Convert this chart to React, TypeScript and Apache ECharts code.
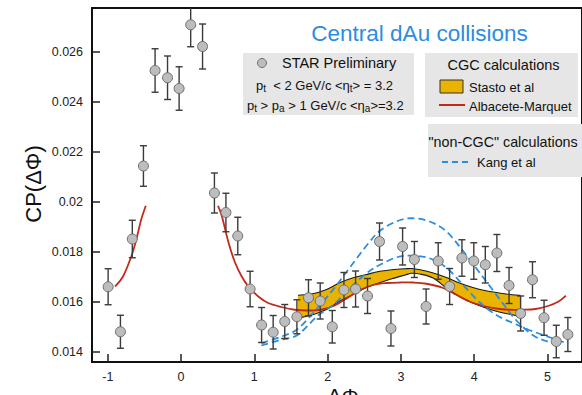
import React, { useEffect, useRef } from 'react';
import * as echarts from 'echarts';

// STAR preliminary data points
const dPhi = [-0.996, -0.828, -0.666, -0.514, -0.355, -0.185, -0.027, 0.131, 0.293, 0.455, 0.612, 0.774, 0.942, 1.099, 1.257, 1.415, 1.581, 1.739, 1.899, 2.064, 2.223, 2.382, 2.545, 2.709, 2.865, 3.024, 3.185, 3.345, 3.51, 3.666, 3.834, 3.996, 4.153, 4.311, 4.477, 4.635, 4.797, 4.955, 5.122, 5.28];
const cp = [0.01661, 0.01481, 0.01852, 0.02144, 0.02526, 0.02497, 0.02454, 0.02709, 0.02622, 0.02036, 0.01958, 0.01864, 0.01652, 0.01508, 0.01479, 0.01522, 0.01541, 0.01617, 0.01604, 0.01501, 0.01648, 0.01652, 0.01624, 0.01842, 0.01494, 0.01822, 0.0177, 0.01582, 0.01764, 0.01662, 0.01776, 0.01764, 0.01749, 0.01796, 0.01666, 0.01554, 0.01689, 0.01537, 0.01442, 0.0147];
const cpErr = [0.00072, 0.00066, 0.00075, 0.00081, 0.00087, 0.00087, 0.00087, 0.00088, 0.0009, 0.0008, 0.00077, 0.00075, 0.00071, 0.0007, 0.00067, 0.00068, 0.00068, 0.00072, 0.00072, 0.00065, 0.0007, 0.00072, 0.0007, 0.00074, 0.0007, 0.00074, 0.00072, 0.0007, 0.00073, 0.00072, 0.00073, 0.00073, 0.00073, 0.00074, 0.00072, 0.0007, 0.00072, 0.0007, 0.00065, 0.00068];

// Albacete-Marquet (red)
const amLeftX = [-0.901, -0.793, -0.68, -0.612, -0.545, -0.482];
const amLeftY = [0.01662, 0.01702, 0.01782, 0.01849, 0.01929, 0.01985];
const amRightX = [0.504, 0.558, 0.649, 0.739, 0.828, 0.919, 1.054, 1.189, 1.369, 1.55, 1.73, 1.909, 2.09, 2.27, 2.45, 2.631, 2.811, 2.99, 3.172, 3.351, 3.577, 3.757, 3.936, 4.118, 4.297, 4.477, 4.658, 4.838, 5.018, 5.153, 5.253];
const amRightY = [0.01985, 0.01942, 0.01836, 0.01756, 0.01702, 0.01662, 0.01622, 0.01596, 0.0158, 0.01569, 0.01566, 0.01569, 0.01585, 0.01616, 0.01649, 0.01669, 0.01676, 0.01678, 0.01678, 0.01673, 0.01656, 0.01629, 0.01602, 0.01585, 0.01574, 0.01569, 0.01569, 0.01572, 0.01585, 0.01602, 0.01625];

// Stasto et al (gold band)
const bandX = [1.595, 1.797, 1.977, 2.158, 2.338, 2.518, 2.699, 2.878, 3.058, 3.149, 3.261, 3.442, 3.622, 3.801, 3.982, 4.162, 4.342, 4.523, 4.635];
const bandHigh = [0.01627, 0.01633, 0.01649, 0.01676, 0.01696, 0.01709, 0.01722, 0.01729, 0.01733, 0.01734, 0.01729, 0.01716, 0.01698, 0.01676, 0.01658, 0.01645, 0.01636, 0.01629, 0.01626];
const bandLow = [0.01535, 0.01549, 0.01569, 0.01602, 0.01629, 0.01656, 0.01676, 0.01693, 0.01708, 0.01715, 0.01712, 0.01696, 0.01656, 0.01622, 0.01596, 0.01576, 0.0156, 0.01549, 0.0154];

// Kang et al (blue dashed)
const kangX = [1.095, 1.365, 1.595, 1.865, 2.095, 2.311, 2.541, 2.716, 2.946, 3.149, 3.392, 3.622, 3.847];
const kangHighY = [0.01435, 0.01461, 0.01493, 0.01577, 0.01657, 0.01741, 0.01829, 0.01885, 0.01923, 0.01935, 0.01922, 0.01882, 0.01805];
const kangHighTailX = [4.118, 4.386, 4.568, 4.793, 4.973, 5.189];
const kangHighTailY = [0.01701, 0.01597, 0.01529, 0.01469, 0.01445, 0.01429];
const kangLowY = [0.01426, 0.01449, 0.01469, 0.01545, 0.01593, 0.01657, 0.01717, 0.01749, 0.01779, 0.01785, 0.01775, 0.01737, 0.01669];
const kangLowTailX = [4.068, 4.297, 4.523, 4.743, 4.973, 5.243];
const kangLowTailY = [0.01601, 0.01549, 0.01517, 0.01489, 0.01465, 0.01437];

const xTicks = [-1, 0, 1, 2, 3, 4, 5];
const yTicks = [0.014, 0.016, 0.018, 0.02, 0.022, 0.024, 0.026];

const FONT = "'Liberation Sans', Arial, Helvetica, sans-serif";
const RED = '#c42a1a';
const BLUE = '#2b8de0';
const GOLD = '#e9b300';

// Catmull-Rom spline through pixel points, as SVG path segments
function splinePath(pts: number[][], move: boolean): string {
  let d = move ? `M${pts[0][0]},${pts[0][1]}` : `L${pts[0][0]},${pts[0][1]}`;
  for (let i = 0; i < pts.length - 1; i++) {
    const p0 = pts[Math.max(i - 1, 0)];
    const p1 = pts[i];
    const p2 = pts[i + 1];
    const p3 = pts[Math.min(i + 2, pts.length - 1)];
    const c1x = p1[0] + (p2[0] - p0[0]) / 6;
    const c1y = p1[1] + (p2[1] - p0[1]) / 6;
    const c2x = p2[0] - (p3[0] - p1[0]) / 6;
    const c2y = p2[1] - (p3[1] - p1[1]) / 6;
    d += `C${c1x},${c1y},${c2x},${c2y},${p2[0]},${p2[1]}`;
  }
  return d;
}

// a smooth curve series drawn through the axes' scales
function curveSeries(xs: number[], ys: number[], style: any, z: number) {
  return {
    type: 'custom', clip: true, silent: true, z,
    data: xs.map((x, i) => [x, ys[i]]),
    encode: { x: 0, y: 1 },
    renderItem: (params: any, api: any) => {
      if (params.dataIndex !== 0) return null;
      const pts = xs.map((x, i) => api.coord([x, ys[i]]));
      return { type: 'path', shape: { pathData: splinePath(pts, true) }, style: { fill: null, ...style } };
    },
  };
}

export default function App() {
  const ref = useRef<HTMLDivElement>(null);
  useEffect(() => {
    const chart = echarts.init(ref.current as HTMLDivElement, null, { renderer: 'svg' });
    const zip = (xs: number[], ys: number[]) => xs.map((x, i) => [x, ys[i]]);

    const subText = (parts: [string, boolean][]) =>
      parts.map(([t, s]) => (s ? `{s|${t}}` : `{m|${t}}`)).join('');
    const rich = {
      m: { fontSize: 13, fontFamily: FONT, fill: '#111', lineHeight: 16, verticalAlign: 'middle' },
      s: { fontSize: 10, fontFamily: FONT, fill: '#111', lineHeight: 8, verticalAlign: 'bottom' },
    };

    const option: any = {
      animation: false,
      backgroundColor: '#fff',
      textStyle: { fontFamily: FONT },
      grid: { left: 92, top: 8, right: -5, bottom: 33, show: true, borderColor: '#111', borderWidth: 2 },
      xAxis: {
        type: 'value',
        min: -1.2162,
        max: 5.473,
        axisLine: { show: true, onZero: false, lineStyle: { color: '#111', width: 2 } },
        axisTick: { show: true, inside: true, length: 8, customValues: xTicks, lineStyle: { color: '#222', width: 1.5 } },
        axisLabel: { customValues: xTicks, formatter: (v: number) => String(v), fontSize: 12.5, color: '#222', margin: 8, fontFamily: FONT },
        splitLine: { show: false },
      },
      yAxis: {
        type: 'value',
        min: 0.0136,
        max: 0.02776,
        axisLine: { show: true, onZero: false, lineStyle: { color: '#111', width: 2 } },
        axisTick: { show: true, inside: true, length: 8, customValues: yTicks, lineStyle: { color: '#222', width: 1.5 } },
        axisLabel: { customValues: yTicks, formatter: (v: number) => String(Number(v.toFixed(3))), fontSize: 12.5, color: '#222', margin: 9, fontFamily: FONT },
        splitLine: { show: false },
      },
      series: [
        {
          type: 'custom', clip: true, silent: true, z: 1,
          data: bandX.map((x, i) => [x, bandLow[i], bandHigh[i]]),
          encode: { x: 0, y: [1, 2] },
          renderItem: (params: any, api: any) => {
            if (params.dataIndex !== 0) return null;
            const up = bandX.map((x, i) => api.coord([x, bandHigh[i]]));
            const lo = bandX.map((x, i) => api.coord([x, bandLow[i]]));
            const loRev = lo.slice().reverse();
            const fillD = splinePath(up, true) + splinePath(loRev, false) + 'Z';
            return {
              type: 'group',
              children: [
                { type: 'path', shape: { pathData: fillD }, style: { fill: GOLD, stroke: null } },
                { type: 'path', shape: { pathData: splinePath(up, true) }, style: { fill: null, stroke: '#1a1a1a', lineWidth: 1.1 } },
                { type: 'path', shape: { pathData: splinePath(lo, true) }, style: { fill: null, stroke: '#1a1a1a', lineWidth: 1.1 } },
              ],
            };
          },
        },
        curveSeries(amLeftX, amLeftY, { stroke: RED, lineWidth: 1.8 }, 2),
        curveSeries(amRightX, amRightY, { stroke: RED, lineWidth: 1.8 }, 2),
        curveSeries(kangX.concat(kangHighTailX), kangHighY.concat(kangHighTailY), { stroke: BLUE, lineWidth: 1.8, lineDash: [7, 4] }, 3),
        curveSeries(kangX.concat(kangLowTailX), kangLowY.concat(kangLowTailY), { stroke: BLUE, lineWidth: 1.8, lineDash: [7, 4] }, 3),
        {
          type: 'custom', clip: true, silent: true, z: 4,
          data: dPhi.map((x, i) => [x, cp[i], cpErr[i]]),
          encode: { x: 0, y: 1 },
          renderItem: (params: any, api: any) => {
            const x = api.value(0), y = api.value(1), e = api.value(2);
            const t = api.coord([x, y + e]);
            const b = api.coord([x, y - e]);
            const c = 3.5;
            const st = { stroke: '#3a3a3a', lineWidth: 1.4 };
            return {
              type: 'group',
              children: [
                { type: 'line', shape: { x1: t[0], y1: t[1], x2: b[0], y2: b[1] }, style: st },
                { type: 'line', shape: { x1: t[0] - c, y1: t[1], x2: t[0] + c, y2: t[1] }, style: st },
                { type: 'line', shape: { x1: b[0] - c, y1: b[1], x2: b[0] + c, y2: b[1] }, style: st },
              ],
            };
          },
        },
        {
          type: 'scatter', symbol: 'circle', symbolSize: 10, z: 5, silent: true,
          data: zip(dPhi, cp),
          itemStyle: { color: '#bdbdbd', borderColor: '#6e6e6e', borderWidth: 1, opacity: 1 },
        },
      ],
      graphic: [
        { type: 'text', x: 419.5, y: 33, style: { text: 'Central dAu collisions', fontSize: 22.5, fontFamily: FONT, fill: BLUE, align: 'center', verticalAlign: 'middle' } },
        { type: 'text', x: 33, y: 184, rotation: Math.PI / 2, style: { text: 'CP(ΔΦ)', fontSize: 22, fontFamily: FONT, fill: '#111', align: 'center', verticalAlign: 'middle' } },
        { type: 'text', x: 343, y: 385, style: { text: 'ΔΦ', fontSize: 21, fontFamily: FONT, fill: '#111', align: 'center', verticalAlign: 'top' } },
        // STAR box
        { type: 'rect', shape: { x: 243, y: 53, width: 171, height: 62 }, style: { fill: '#e6e6e6' } },
        { type: 'circle', shape: { cx: 262, cy: 63, r: 4.5 }, style: { fill: '#bdbdbd', stroke: '#6e6e6e', lineWidth: 1 } },
        { type: 'text', x: 282, y: 63, style: { text: 'STAR Preliminary', fontSize: 14.5, fontFamily: FONT, fill: '#111', align: 'left', verticalAlign: 'middle' } },
        { type: 'text', x: 256, y: 85, style: { text: subText([['p', false], ['t', true], ['  < 2 GeV/c <η', false], ['t', true], ['> = 3.2', false]]), rich, align: 'left', verticalAlign: 'middle' } },
        { type: 'text', x: 247, y: 105, style: { text: subText([['p', false], ['t', true], [' > p', false], ['a', true], [' > 1 GeV/c <η', false], ['a', true], ['>=3.2', false]]), rich, align: 'left', verticalAlign: 'middle' } },
        // CGC box
        { type: 'rect', shape: { x: 425, y: 53, width: 153, height: 64 }, style: { fill: '#e6e6e6' } },
        { type: 'text', x: 503.5, y: 65, style: { text: 'CGC calculations', fontSize: 14.5, fontFamily: FONT, fill: '#111', align: 'center', verticalAlign: 'middle' } },
        { type: 'rect', shape: { x: 440, y: 80, width: 23, height: 13 }, style: { fill: GOLD, stroke: '#333', lineWidth: 1 } },
        { type: 'text', x: 469, y: 87, style: { text: 'Stasto et al', fontSize: 13, fontFamily: FONT, fill: '#111', align: 'left', verticalAlign: 'middle' } },
        { type: 'line', shape: { x1: 439, y1: 105, x2: 465, y2: 105 }, style: { stroke: RED, lineWidth: 2 } },
        { type: 'text', x: 469, y: 106, style: { text: 'Albacete-Marquet', fontSize: 13, fontFamily: FONT, fill: '#111', align: 'left', verticalAlign: 'middle' } },
        // non-CGC box
        { type: 'rect', shape: { x: 428, y: 124, width: 160, height: 53 }, style: { fill: '#e6e6e6' } },
        { type: 'text', x: 428.5, y: 142, style: { text: '"non-CGC" calculations', fontSize: 14.3, fontFamily: FONT, fill: '#111', align: 'left', verticalAlign: 'middle' } },
        { type: 'line', shape: { x1: 442, y1: 162, x2: 471, y2: 162 }, style: { stroke: BLUE, lineWidth: 1.8, lineDash: [6, 4] } },
        { type: 'text', x: 477, y: 162, style: { text: 'Kang et al', fontSize: 13, fontFamily: FONT, fill: '#111', align: 'left', verticalAlign: 'middle' } },
      ],
    };
    chart.setOption(option);
    return () => chart.dispose();
  }, []);
  return <div ref={ref} style={{ position: 'fixed', left: 0, top: 0, width: 582, height: 395, background: '#fff' }} />;
}
